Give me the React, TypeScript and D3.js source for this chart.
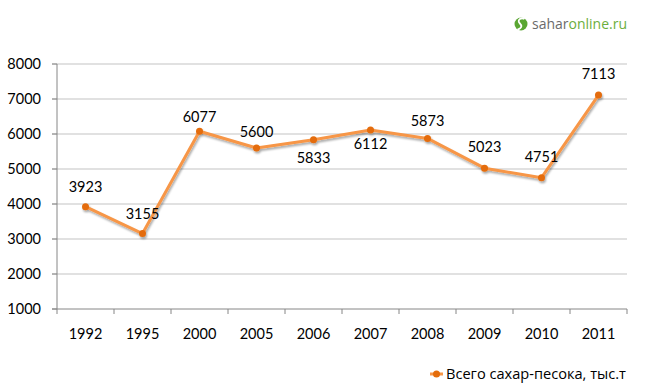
import * as d3 from 'd3';
import React from 'react';

// chart data
const years = ['1992', '1995', '2000', '2005', '2006', '2007', '2008', '2009', '2010', '2011'];
const sugar = [3923, 3155, 6077, 5600, 5833, 6112, 5873, 5023, 4751, 7113];
const yTicks = [1000, 2000, 3000, 4000, 5000, 6000, 7000, 8000];
const seriesName = 'Всего сахар-песока, тыс.т';

// where each value label sits relative to its point (px, label centre)
const labelDy = [-20, -20, -14, -16, 18, 14, -18, -21, -21, -21];

const W = 650;
const H = 390;
const margin = { top: 64, right: 23, bottom: 81, left: 57 };
const font = 'Lato, "Open Sans", sans-serif';

export default function App() {
  const width = W - margin.left - margin.right;
  const height = H - margin.top - margin.bottom;

  const x = d3.scaleBand().domain(years).range([0, width]);
  const y = d3.scaleLinear().domain([1000, 8000]).range([height, 0]);

  const cx = (d: string) => (x(d) as number) + x.bandwidth() / 2;
  const line = d3.line<number>()
    .x((d, i) => cx(years[i]))
    .y(d => y(d));

  const bounds = years.map(d => x(d) as number).concat([width]);

  return (
    <svg width={W} height={H} style={{ position: 'absolute', left: 0, top: 0, background: '#fff' }}
      fontFamily={font}>
      <defs>
        <filter id="shadow" x="-20%" y="-20%" width="140%" height="140%">
          <feGaussianBlur in="SourceAlpha" stdDeviation="1.2" />
          <feOffset dx="1" dy="1.5" result="b" />
          <feComponentTransfer><feFuncA type="linear" slope="0.35" /></feComponentTransfer>
          <feMerge><feMergeNode /><feMergeNode in="SourceGraphic" /></feMerge>
        </filter>
      </defs>

      {/* logo */}
      <g transform="translate(521,24)">
        <circle r={6.5} fill="#5aa632" />
        <path d="M 3.5 -5 C 0 -7 -4 -4 -1.5 -1 C 1 1.5 1.5 4 -3.5 5.5" fill="none" stroke="#fff" strokeWidth={1.8} />
        <text x={11} y={5} fontSize={14} fontFamily='"Open Sans", sans-serif' fill="#6b6b6b">
          sahar<tspan fill="#6cae3c">online.ru</tspan>
        </text>
      </g>

      <g transform={`translate(${margin.left},${margin.top})`}>
        {yTicks.map(t => (
          <g key={t} transform={`translate(0,${y(t)})`}>
            <line x1={-5} x2={t === 1000 ? 0 : width} stroke={t === 1000 ? '#868686' : '#c3c3c3'} />
            <line x1={-5} x2={0} stroke="#868686" />
            <text x={-16} dy="0.35em" textAnchor="end" fontSize={14.5} fill="#000">{t}</text>
          </g>
        ))}
        <line x1={0} x2={width} y1={height} y2={height} stroke="#868686" />
        <line x1={0} x2={0} y1={0} y2={height} stroke="#868686" />
        {bounds.map((b, i) => (
          <line key={i} x1={b} x2={b} y1={height} y2={height + 5} stroke="#868686" />
        ))}
        {years.map(d => (
          <text key={d} x={cx(d)} y={height + 25} dy="0.35em" textAnchor="middle" fontSize={14.5} fill="#000">{d}</text>
        ))}

        <g filter="url(#shadow)">
          <path d={line(sugar) as string} fill="none" stroke="#f79646" strokeWidth={3} strokeLinejoin="round" />
          {sugar.map((v, i) => (
            <circle key={i} cx={cx(years[i])} cy={y(v)} r={3.5} fill="#e46c0a" />
          ))}
        </g>
        {sugar.map((v, i) => (
          <text key={i} x={cx(years[i])} y={y(v) + labelDy[i]} dy="0.35em" textAnchor="middle" fontSize={14.5} fill="#000">{v}</text>
        ))}
      </g>

      {/* legend */}
      <g transform="translate(430,374)">
        <line x1={0} x2={13} stroke="#f79646" strokeWidth={3} />
        <circle cx={6.5} cy={0} r={3.5} fill="#e46c0a" />
        <text x={16} dy="0.35em" fontSize={14.6} fontFamily='"Open Sans", sans-serif' fill="#000">{seriesName}</text>
      </g>
    </svg>
  );
}
